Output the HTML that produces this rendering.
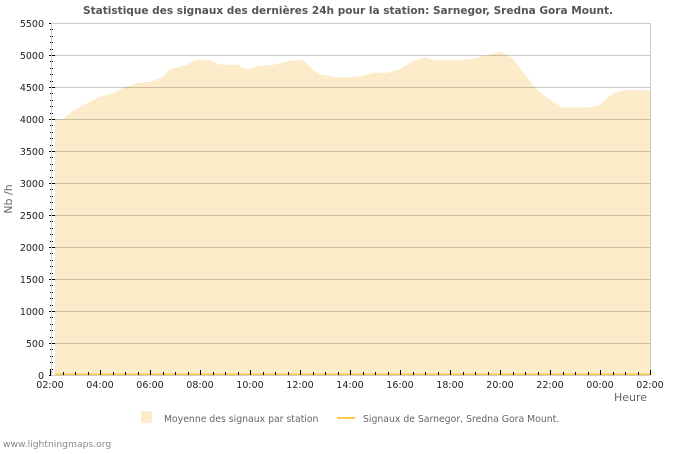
<!DOCTYPE html>
<html><head><meta charset="utf-8"><style>
body{margin:0;background:#fff;font-family:"DejaVu Sans","Liberation Sans",sans-serif;}
svg text{font-family:"DejaVu Sans","Liberation Sans",sans-serif;}
</style></head><body>
<svg id="chart" width="700" height="450" xmlns="http://www.w3.org/2000/svg">
<text x="348" y="14" text-anchor="middle" font-size="10.6" font-weight="bold" fill="#555" textLength="530" lengthAdjust="spacingAndGlyphs">Statistique des signaux des dernières 24h pour la station: Sarnegor, Sredna Gora Mount.</text>
<g id="plot"></g>
<text transform="translate(12,199) rotate(-90)" text-anchor="middle" font-size="11" fill="#666">Nb /h</text>
<text x="647" y="401" text-anchor="end" font-size="11" fill="#666">Heure</text>
<rect x="141" y="411" width="11" height="12" fill="#fdecc9"/>
<text x="164" y="422" font-size="9.3" fill="#666">Moyenne des signaux par station</text>
<line x1="337" y1="418" x2="355" y2="418" stroke="#ffcc44" stroke-width="2"/>
<text x="363" y="422" font-size="9.3" fill="#666">Signaux de Sarnegor, Sredna Gora Mount.</text>
<text x="3" y="447" font-size="9.2" fill="#888">www.lightningmaps.org</text>
</svg>
<script>
const hours=[0.2,0.5,1,1.5,2,2.5,3,3.5,4,4.5,4.8,5.5,5.8,6.4,6.8,7.5,7.8,8,8.3,9,9.5,10,10.2,10.5,10.8,11.5,12,12.5,13,13.5,14,14.5,15,15.4,16,16.5,17,17.5,18,18.5,19,19.5,20,20.5,21,21.5,22,22.5,23,23.5,24];
const avgValues=[4000,4000,4150,4250,4350,4400,4500,4560,4580,4650,4780,4850,4920,4920,4850,4850,4790,4780,4830,4850,4900,4930,4900,4780,4700,4650,4650,4680,4720,4720,4780,4900,4960,4920,4920,4920,4950,5000,5050,4950,4700,4450,4300,4180,4180,4180,4220,4400,4450,4450,4450];
const stationHours=[0.2,24];
const stationValues=[0,0];
const yTicks=[0,500,1000,1500,2000,2500,3000,3500,4000,4500,5000,5500];
const xTickLabels=["02:00","04:00","06:00","08:00","10:00","12:00","14:00","16:00","18:00","20:00","22:00","00:00","02:00"];
const NS="http://www.w3.org/2000/svg";
const X0=50,X1=650,Y0=375,YT=23;
const xs=h=>X0+h*(X1-X0)/24;
const ys=v=>Y0-v*(Y0-YT)/5500;
const g=document.getElementById('plot');
function mk(t,a){const e=document.createElementNS(NS,t);for(const k in a)e.setAttribute(k,a[k]);g.appendChild(e);return e;}
let d=`M${xs(hours[0])},${ys(0)}`;
hours.forEach((h,i)=>{d+=` L${xs(h)},${ys(avgValues[i])}`;});
d+=` L${xs(hours[hours.length-1])},${ys(0)} Z`;
const area=mk('path',{d:d,fill:'#fdecc9'});


yTicks.forEach(v=>{if(v===0)return;const l=mk('line',{x1:51,x2:X1,y1:ys(v)+0.5,y2:ys(v)+0.5,stroke:'rgba(0,0,0,0.2)','stroke-width':1});


const t=mk('text',{x:44,y:ys(v)+4,'text-anchor':'end','font-size':9.5,fill:'#222'});t.textContent=v;

});
const t0=mk('text',{x:44,y:ys(0)+4,'text-anchor':'end','font-size':9.5,fill:'#222'});t0.textContent='0';


for(let v=0;v<=5500;v+=100){const maj=v%500===0;mk('line',{x1:maj?49:50,x2:maj?55:53,y1:Math.round(ys(v))+0.5,y2:Math.round(ys(v))+0.5,stroke:'#000','stroke-width':1});}
mk('path',{d:`M51.5,${YT} V${Y0+0.5} M51,${YT+0.5} H${X1+0.5} V${Y0+0.5}`,stroke:'#ccc',fill:'none'});
let sd='';stationHours.forEach((h,i)=>{sd+=(i?' L':'M')+xs(h)+','+(ys(stationValues[i])-0.5);});
const sl=mk('path',{d:sd,stroke:'#ffcc44','stroke-width':2,fill:'none'});


mk('line',{x1:51,x2:X1,y1:Y0+0.5,y2:Y0+0.5,stroke:'#ccc'});
for(let i=0;i<=48;i++){const x=Math.round(xs(i/2))+0.5;const maj=i%4===0;mk('line',{x1:x,x2:x,y1:Y0,y2:Y0-(maj?5:3),stroke:'#000'});}
xTickLabels.forEach((s,i)=>{const t=mk('text',{x:xs(i*2),y:388,'text-anchor':'middle','font-size':9.5,fill:'#222'});t.textContent=s;

});
</script>
</body></html>
